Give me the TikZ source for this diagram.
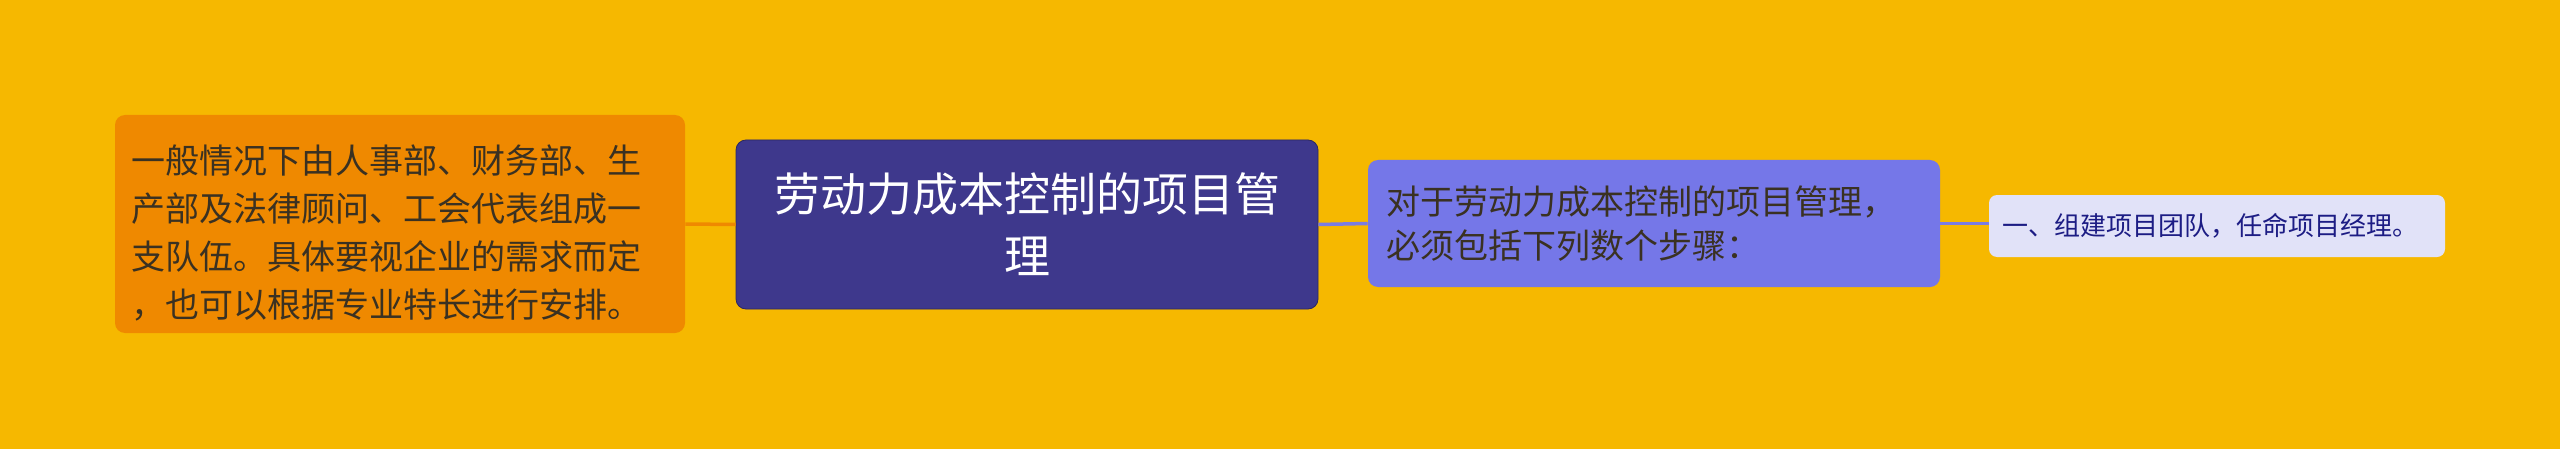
\documentclass[tikz,border=0pt]{standalone}
\usepackage{fontspec}
\setmainfont{Noto Sans CJK SC}
\usepackage{tikz}

\definecolor{bgyellow}{HTML}{F6B800}
\definecolor{leaforange}{HTML}{EF8900}
\definecolor{rootindigo}{HTML}{3E388C}
\definecolor{subviolet}{HTML}{7577E8}
\definecolor{stepwhite}{HTML}{E1E2F8}
\definecolor{darktext}{HTML}{3A3122}
\definecolor{navytext}{HTML}{1C1C84}
\definecolor{linkviolet}{HTML}{7A7CE2}

\tikzset{
  box/.style={rounded corners=5pt, inner ysep=0pt, anchor=center},
  rootbox/.style={box, fill=rootindigo, draw=rootindigo!70!black, line width=0.4pt,
    text=white, text width=275pt, inner xsep=8pt, minimum height=84.5pt, align=center,
    font=\fontsize{23pt}{31pt}\selectfont},
  leftbox/.style={box, fill=leaforange, text=darktext, text width=269pt, inner xsep=8pt,
    minimum height=109pt, align=left, font=\fontsize{17pt}{24pt}\selectfont},
  midbox/.style={box, fill=subviolet, text=darktext, text width=268pt, inner xsep=9pt,
    minimum height=63.5pt, align=left, font=\fontsize{17pt}{22pt}\selectfont},
  stepbox/.style={box, rounded corners=4pt, fill=stepwhite, text=navytext, text width=215pt,
    inner xsep=6.5pt, minimum height=31pt, align=left, font=\fontsize{13pt}{16pt}\selectfont},
  link/.style={line width=1.75pt}
}

\begin{document}
\begin{tikzpicture}[x=0.5pt, y=-0.5pt]
    % background
    \fill[bgyellow] (0,0) rectangle (2560,449);
    \useasboundingbox (0,0) rectangle (2560,449);

    % Root
    \node[rootbox] (root) at (1027,224.5) {劳动力成本控制的项目管\\理};

    % Left branch
    \node[leftbox] (left) at (400,224) {\rule{0pt}{23pt}一般情况下由人事部、财务部、生\\产部及法律顾问、工会代表组成一\\支队伍。具体要视企业的需求而定\\，也可以根据专业特长进行安排。};

    % Right branch
    \node[midbox] (steps) at (1654,223.5) {对于劳动力成本控制的项目管理，\\必须包括下列数个步骤：};
    \node[stepbox] (first) at (2217,226) {一、组建项目团队，任命项目经理。};

    % Links
    \draw[link, leaforange] (left.east) -- (root.west);
    \draw[link, linkviolet] (root.east) -- (steps.west);
    \draw[link, linkviolet] (steps.east) -- (first.west |- steps.east);
\end{tikzpicture}
\end{document}
